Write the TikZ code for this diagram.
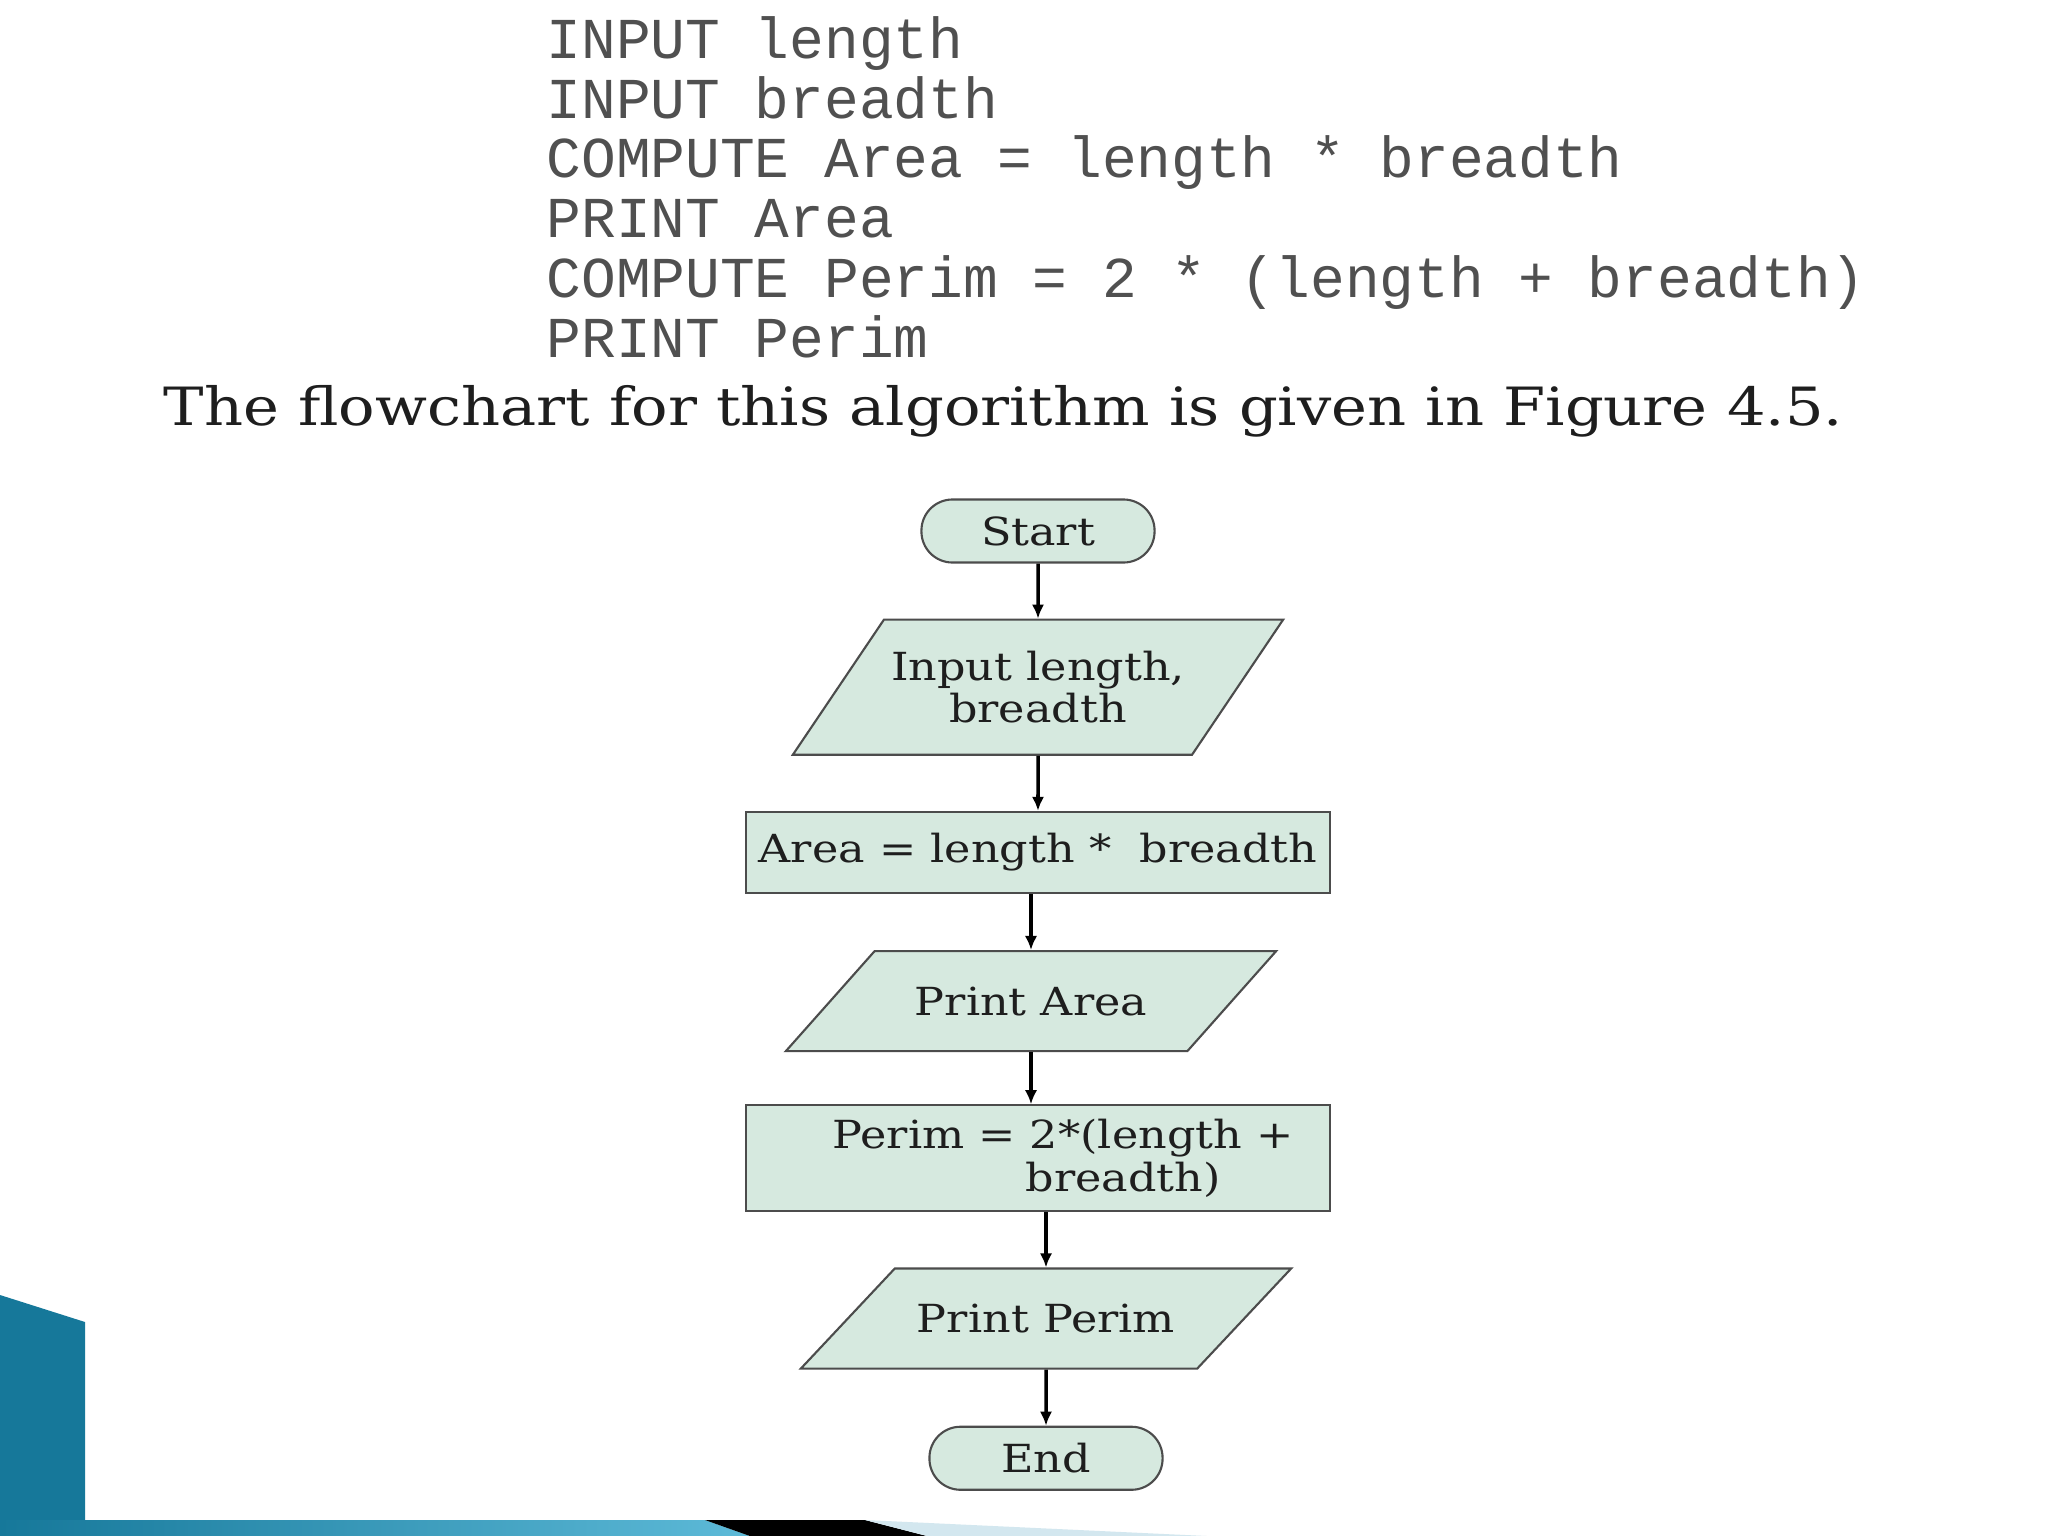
\documentclass[tikz,border=0pt]{standalone}
\usepackage{fontspec}
\setmainfont{DejaVu Serif}
\setmonofont{Liberation Mono}
\newfontfamily\wideserif{DejaVu Serif}[FakeStretch=1.15]
\usepackage{tikz}
\usetikzlibrary{arrows.meta,positioning,shapes.geometric}
\definecolor{ink}{HTML}{1E1E1E}
\definecolor{codegray}{HTML}{505050}
\definecolor{edgegray}{HTML}{4C4C4C}
\definecolor{mintbox}{HTML}{D6E9DF}
\definecolor{slideteal}{HTML}{16789A}
\definecolor{slidecyan}{HTML}{5DBAD8}
\definecolor{slidepale}{HTML}{D3E7EF}
\tikzset{
  >={Latex[length=4pt,width=3.5pt]},
  every node/.style={text=ink},
  codeline/.style={anchor=base west,inner sep=0pt,text=codegray,font=\fontsize{16.45}{19}\ttfamily},
  bodytext/.style={anchor=base west,inner sep=0pt,font=\wideserif\fontsize{15}{18}\selectfont},
  chartbox/.style={draw=edgegray,fill=mintbox,line width=0.6pt,align=center,font=\wideserif\fontsize{11}{12}\selectfont},
  terminal/.style={chartbox,rounded corners=3.1mm,minimum width=23.3mm,minimum height=6.3mm},
  process/.style={chartbox,minimum width=58.3mm,inner sep=2pt},
  iobox/.style={chartbox,trapezium,trapezium stretches body,minimum width=49mm,minimum height=10mm,inner sep=1pt},
  flow/.style={->,line width=1pt,draw=black}
}

\begin{document}
\begin{tikzpicture}[x=0.01cm,y=-0.01cm,node distance=5.5mm]
  \useasboundingbox (0,0) rectangle (2048,1536);
  \fill[white] (0,0) rectangle (2048,1536);

  % algorithm text
  \node[codeline] (in1) at (546,58) {INPUT length};
  \node[codeline] (in2) at (546,118) {INPUT breadth};
  \node[codeline] (area1) at (546,177) {COMPUTE Area = length * breadth};
  \node[codeline] (out1) at (546,237) {PRINT Area};
  \node[codeline] (perim1) at (546,297) {COMPUTE Perim = 2 * (length + breadth)};
  \node[codeline] (out2) at (546,357) {PRINT Perim};
  \node[bodytext] (intro) at (163,425) {The flowchart for this algorithm is given in Figure 4.5.};

  % flowchart
  \node[terminal] (start) at (1038,531) {Start};
  \node[iobox,below=of start,trapezium left angle=41,trapezium right angle=139,minimum height=13.5mm] (input) {Input length,\\breadth};
  \node[process,below=of input,minimum height=8.1mm] (area) {Area = length *\ \ breadth};
  \node[iobox,below=5.6mm of area,xshift=-0.7mm,trapezium left angle=22.1,trapezium right angle=157.9] (parea) {Print Area};
  \node[process,below=5.2mm of parea,xshift=0.7mm,minimum height=10.6mm,align=left] (perim) {\hspace*{5mm}Perim = 2*(length +\\\hspace*{24.3mm}breadth)};
  \node[iobox,below=of perim,xshift=0.8mm,trapezium left angle=21,trapezium right angle=159] (pperim) {Print Perim};
  \node[terminal,below=5.6mm of pperim] (stop) {End};

  \draw[flow] (start) -- (input);
  \draw[flow] (input) -- (area);
  \draw[flow] (area.south -| parea.north) -- (parea.north);
  \draw[flow] (parea.south) -- (parea.south |- perim.north);
  \draw[flow] (perim.south -| pperim.north) -- (pperim.north);
  \draw[flow] (pperim) -- (stop);

  % slide decoration
  \fill[slideteal] (0,1295) -- (85,1322) -- (85,1520) -- (0,1520) -- cycle;
  \shade[left color=slideteal,right color=slidecyan] (0,1520) -- (705,1520) -- (750,1536) -- (0,1536) -- cycle;
  \fill[black] (705,1520) -- (865,1520) -- (927,1536) -- (750,1536) -- cycle;
  \fill[slidepale] (865,1520) -- (1207,1536) -- (927,1536) -- cycle;
\end{tikzpicture}
\end{document}
